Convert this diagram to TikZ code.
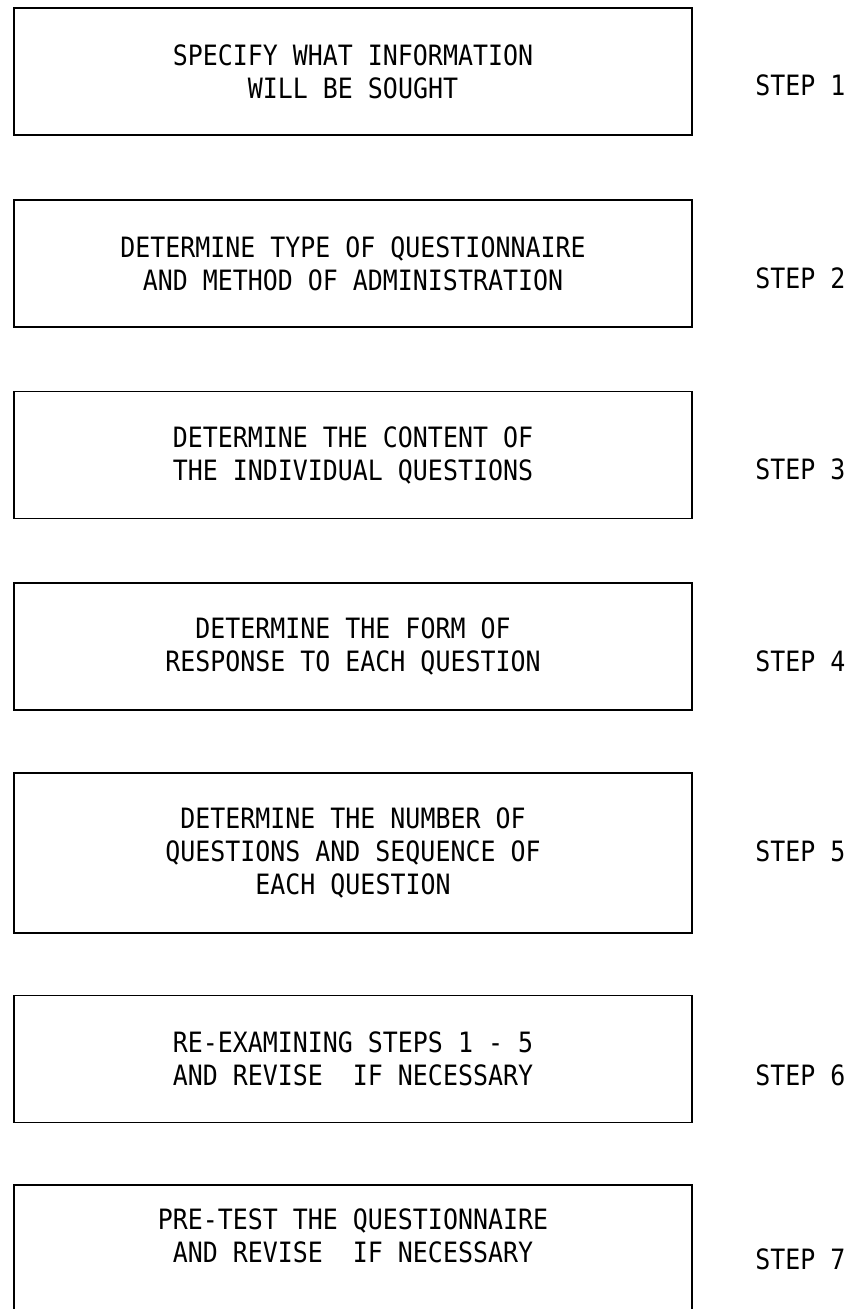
\documentclass[tikz,border=0pt]{standalone}
\usepackage{fontspec}
\setmainfont{DejaVu Sans Mono}[FakeStretch=0.89]
\tikzset{
    stepbox/.style={draw, line width=0.9pt, minimum width=339pt, minimum height=63.5pt,
        align=center, inner sep=0pt, font=\fontsize{14}{16.5}\selectfont},
    boxtext/.style={align=center, inner sep=0pt, font=\fontsize{14}{16.5}\selectfont},
    steplabel/.style={anchor=west, inner sep=0pt, font=\fontsize{14}{16.5}\selectfont}
}
\begin{document}
\begin{tikzpicture}[x=0.5pt, y=-0.5pt]
        \clip (0,0) rectangle (858,1309);
        % the seven boxes, one under the other
        \node[stepbox] (b1) at (353,71.5) {SPECIFY WHAT INFORMATION\\WILL BE SOUGHT};
        \node[stepbox] (b2) at (353,263.5) {DETERMINE TYPE OF QUESTIONNAIRE\\AND METHOD OF ADMINISTRATION};
        \node[stepbox] (b3) at (353,455) {DETERMINE THE CONTENT OF\\THE INDIVIDUAL QUESTIONS};
        \node[stepbox] (b4) at (353,646.5) {DETERMINE THE FORM OF\\RESPONSE TO EACH QUESTION};
        \node[stepbox, minimum height=80pt] (b5) at (353,853) {DETERMINE THE NUMBER OF\\QUESTIONS AND SEQUENCE OF\\EACH QUESTION};
        \node[stepbox] (b6) at (353,1059) {RE-EXAMINING STEPS 1 - 5\\AND REVISE\ \ IF NECESSARY};
        % last box runs off the bottom of the page
        \node[stepbox] (b7) at (353,1248.5) {};
        \node[boxtext] (t7) at (353,1236) {PRE-TEST THE QUESTIONNAIRE\\AND REVISE\ \ IF NECESSARY};
        % step numbers on the right
        \node[steplabel] (s1) at (755,85) {STEP 1};
        \node[steplabel] (s2) at (755,278) {STEP 2};
        \node[steplabel] (s3) at (755,469) {STEP 3};
        \node[steplabel] (s4) at (755,661) {STEP 4};
        \node[steplabel] (s5) at (755,851) {STEP 5};
        \node[steplabel] (s6) at (755,1075) {STEP 6};
        \node[steplabel] (s7) at (755,1259) {STEP 7};
    \end{tikzpicture}
\end{document}
